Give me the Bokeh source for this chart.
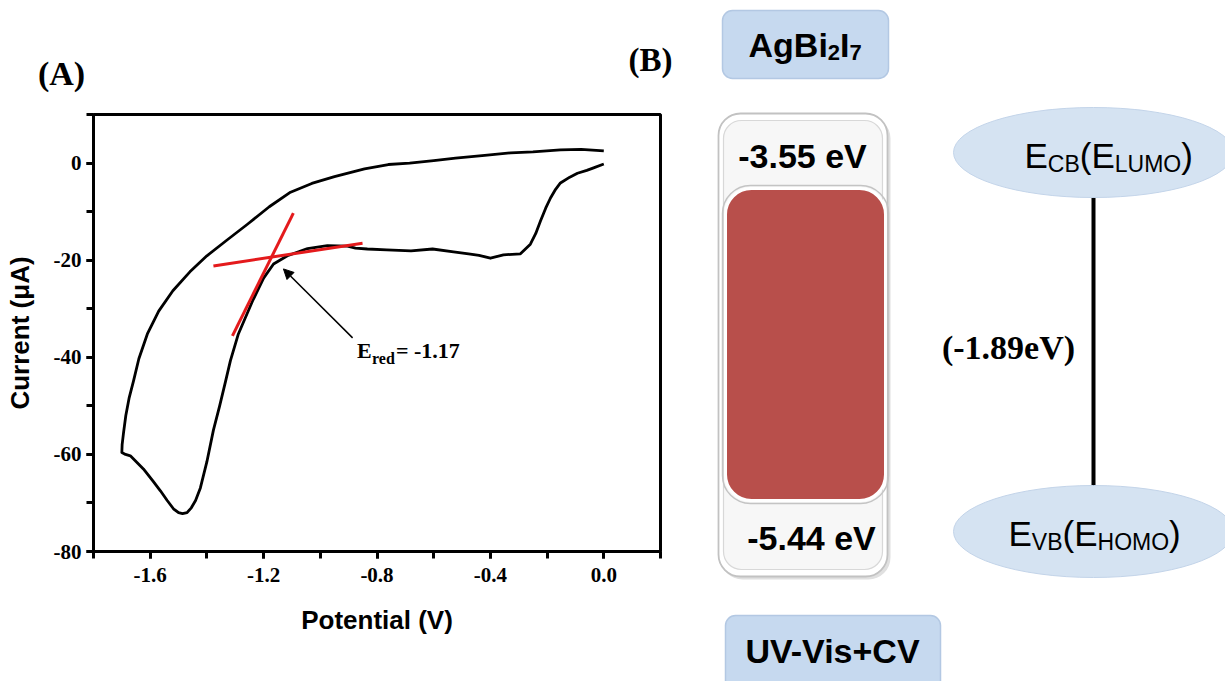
from bokeh.plotting import figure
from bokeh.layouts import row
from bokeh.models import (Range1d, SingleIntervalTicker, PrintfTickFormatter, Label,
                          Arrow, NormalHead)
from bokeh.embed import file_html
from bokeh.resources import INLINE
from bokeh.core.properties import value

# ---------------- data ----------------
potential = [0.0, -0.036, -0.06, -0.093, -0.12, -0.153, -0.17, -0.188, -0.205, -0.223,
             -0.24, -0.259, -0.294, -0.354, -0.40, -0.44, -0.477, -0.53, -0.604, -0.68,
             -0.766, -0.834, -0.876, -0.904, -0.975, -1.045, -1.116, -1.165, -1.20, -1.239,
             -1.289, -1.317, -1.334, -1.355, -1.377, -1.40, -1.423, -1.44, -1.455, -1.47,
             -1.486, -1.50, -1.518, -1.54, -1.564, -1.59, -1.624, -1.67, -1.687, -1.700,
             -1.699, -1.694, -1.686, -1.674, -1.659, -1.64, -1.61, -1.57, -1.52, -1.46,
             -1.40, -1.33, -1.257, -1.18, -1.105, -1.03, -0.95, -0.844, -0.76, -0.685,
             -0.6, -0.523, -0.42, -0.329, -0.25, -0.153, -0.08, 0.0]
current = [-0.2, -1.0, -1.5, -2.1, -2.9, -4.1, -5.4, -7.2, -9.3, -11.9,
           -14.5, -16.7, -18.7, -18.9, -19.6, -19.0, -18.7, -18.3, -17.7, -18.1,
           -17.9, -17.7, -17.5, -17.1, -17.0, -17.6, -19.1, -20.8, -23.7, -28.4,
           -35.2, -40.7, -44.9, -50.0, -55.0, -61.5, -66.9, -69.5, -71.0, -72.0,
           -72.2, -72.0, -71.2, -69.5, -67.5, -65.5, -63.0, -60.3, -60.0, -59.6,
           -58.0, -55.5, -52.0, -48.3, -44.9, -40.3, -35.2, -30.5, -26.3, -22.4,
           -19.1, -15.9, -12.6, -9.0, -6.0, -4.2, -2.8, -1.2, -0.3, 0.0,
           0.5, 1.0, 1.6, 2.1, 2.3, 2.7, 2.8, 2.5]

tangent_steep_x = [-1.31, -1.095]
tangent_steep_y = [-35.6, -10.3]
tangent_flat_x = [-1.377, -0.851]
tangent_flat_y = [-21.2, -16.5]

e_red = -1.17
arrow_from = (-0.886, -36.0)
arrow_to = (-1.13, -21.8)

x_ticks_interval = 0.4
y_ticks_interval = 20

compound = ["AgBi", "2", "I", "7"]
cb_level = -3.55
vb_level = -5.44
gap_value = -1.89
method_label = "UV-Vis+CV"
panel_letters = ["(A)", "(B)"]


def no_frame_align(fig):
    if "frame_align" in fig.properties():
        fig.frame_align = False


# ---------------- left panel: CV ----------------
p = figure(width=700, height=681, x_range=Range1d(-1.8, 0.2), y_range=Range1d(-80, 10),
           output_backend="svg", toolbar_location=None,
           min_border_left=93, min_border_right=40, min_border_top=114, min_border_bottom=130,
           background_fill_color="white", border_fill_color="white")
no_frame_align(p)
p.grid.visible = False
p.outline_line_color = "black"
p.outline_line_width = 3

p.xaxis.ticker = SingleIntervalTicker(interval=x_ticks_interval, num_minor_ticks=2)
p.yaxis.ticker = SingleIntervalTicker(interval=y_ticks_interval, num_minor_ticks=2)
p.xaxis.formatter = PrintfTickFormatter(format="%.1f")
p.yaxis.formatter = PrintfTickFormatter(format="%d")
for ax in (p.xaxis[0], p.yaxis[0]):
    ax.axis_line_width = 3
    ax.axis_line_color = "black"
    ax.major_tick_in = 0
    ax.major_tick_out = 7
    ax.minor_tick_in = 0
    ax.minor_tick_out = 7
    ax.major_tick_line_width = 3
    ax.minor_tick_line_width = 3
    ax.major_tick_line_color = "black"
    ax.minor_tick_line_color = "black"
    ax.major_label_text_font = "Liberation Serif"
    ax.major_label_text_font_style = "bold"
    ax.major_label_text_font_size = "21px"
    ax.major_label_text_color = "black"
    ax.axis_label_text_font = "Liberation Sans"
    ax.axis_label_text_font_style = "bold"
    ax.axis_label_text_font_size = "26px"
    ax.axis_label_text_color = "black"
p.xaxis.major_label_standoff = 9
p.yaxis.major_label_standoff = 5
p.xaxis.axis_label = "Potential (V)"
p.yaxis.axis_label = "Current (\u03bcA)"
p.xaxis.axis_label_standoff = 20
p.yaxis.axis_label_standoff = 16

p.line(potential, current, line_width=2.8, line_color="black", line_join="round")
p.line(tangent_steep_x, tangent_steep_y, line_width=3, line_color="#e41a1c")
p.line(tangent_flat_x, tangent_flat_y, line_width=3, line_color="#e41a1c")
p.add_layout(Arrow(end=NormalHead(size=10, fill_color="black", line_color="black"),
                   x_start=arrow_from[0], y_start=arrow_from[1],
                   x_end=arrow_to[0], y_end=arrow_to[1],
                   line_width=1.5, line_color="black"))

lab_kw = dict(text_font="Liberation Serif", text_font_style="bold", text_color="black")
p.add_layout(Label(x=-0.8, y=-38.7, x_offset=-20, text="E", text_font_size="22px",
                   text_baseline="middle", **lab_kw))
p.add_layout(Label(x=-0.8, y=-38.7, x_offset=-5, y_offset=-8, text="red",
                   text_font_size="16px", text_baseline="middle", **lab_kw))
p.add_layout(Label(x=-0.8, y=-38.7, x_offset=19, text=f"= {e_red:.2f}",
                   text_font_size="22px", text_baseline="middle", **lab_kw))

# panel letters, placed in side panels above the frame
p.add_layout(Label(x=61 - 93, y=41, x_units="screen", y_units="screen",
                   text=panel_letters[0], text_align="center", text_font_size="34px",
                   text_baseline="alphabetic", **lab_kw), "above")
p.add_layout(Label(x=650 - 93, y=18, x_units="screen", y_units="screen",
                   text=panel_letters[1], text_align="center", text_font_size="33px",
                   text_baseline="alphabetic", **lab_kw), "above")

# ---------------- right panel: energy diagram ----------------
q = figure(width=525, height=681, x_range=Range1d(700, 1225), y_range=Range1d(681, 0),
           output_backend="svg", toolbar_location=None, min_border=0,
           x_axis_location=None, y_axis_location=None, outline_line_color=None,
           background_fill_color="white", border_fill_color="white")
no_frame_align(q)
q.grid.visible = False

blue = "#c6d9ef"
blue_line = "#b3c8e3"
q.quad(left=722, right=888, top=10, bottom=78, fill_color=blue, line_color=blue_line,
       line_width=1.5, border_radius=10)
q.quad(left=725, right=940, top=615, bottom=700, fill_color=blue, line_color=blue_line,
       line_width=1.5, border_radius=10)
q.quad(left=720, right=890, top=116, bottom=579, fill_color="#e0e0e0", line_color=None,
       border_radius=22)
q.quad(left=718, right=887, top=113, bottom=576, fill_color="white", line_color="#c2c2c2",
       line_width=1.8, border_radius=22)
q.quad(left=723, right=882, top=120, bottom=569, fill_color="#f7f7f7", line_color="#d8d8d8",
       line_width=1.2, border_radius=18)
q.quad(left=722, right=888, top=185, bottom=503, fill_color=None, line_color="#c4c4c4",
       line_width=1.5, border_radius=28)
q.quad(left=725, right=885, top=188, bottom=500, fill_color="#b84f4b", line_color="white",
       line_width=3, border_radius=26)

q.segment(x0=[1093], y0=[197], x1=[1093], y1=[487], line_width=4, line_color="black")
ell_fill = "#d5e3f2"
q.ellipse(x=[1093], y=[152], width=280, height=90, fill_color=ell_fill, line_color="#c3d4e9",
          line_width=1)
q.ellipse(x=[1093], y=[531], width=280, height=92, fill_color=ell_fill, line_color="#c3d4e9",
          line_width=1)

W_REG = {"E": 667, "C": 722, "B": 667, "V": 667, "H": 722, "O": 778, "M": 833, "L": 556,
         "U": 722, "(": 333, ")": 333}
W_BOLD = {"A": 722, "g": 611, "B": 722, "i": 278, "I": 278, "2": 556, "7": 556}


def draw_rich(fig, parts, x0, mid, size_main, size_sub, widths, bold, sub_drop=8):
    x = x0
    for txt, is_sub in parts:
        size = size_sub if is_sub else size_main
        y = mid + sub_drop if is_sub else mid
        fig.text(x=[x], y=[y], text=[txt], text_font=value("Liberation Sans"),
                 text_font_style="bold" if bold else "normal",
                 text_font_size=f"{size}px", text_align="left",
                 text_baseline="middle", text_color="black")
        x += sum(widths.get(c, 600) for c in txt) * size / 1000.0


draw_rich(q, [(compound[0], False), (compound[1], True), (compound[2], False), (compound[3], True)],
          748, 44, 34, 22, W_BOLD, True)
draw_rich(q, [("E", False), ("CB", True), ("(E", False), ("LUMO", True), (")", False)],
          1024, 155, 35, 23, W_REG, False)
draw_rich(q, [("E", False), ("VB", True), ("(E", False), ("HOMO", True), (")", False)],
          1008, 533, 35, 23, W_REG, False)

txt_kw = dict(text_font=value("Liberation Sans"), text_font_style="bold",
              text_font_size="34px", text_align="center", text_baseline="middle",
              text_color="black")
q.text(x=[802], y=[155], text=[f"{cb_level:.2f} eV"], **txt_kw)
q.text(x=[811], y=[537], text=[f"{vb_level:.2f} eV"], **txt_kw)
q.text(x=[832], y=[650], text=[method_label], **txt_kw)
q.text(x=[1008], y=[347], text=[f"({gap_value:.2f}eV)"], text_font=value("Liberation Serif"),
       text_font_style="bold", text_font_size="34px", text_align="center",
       text_baseline="middle", text_color="black")

layout = row(p, q)
open("out.html", "w").write(file_html(layout, INLINE))
